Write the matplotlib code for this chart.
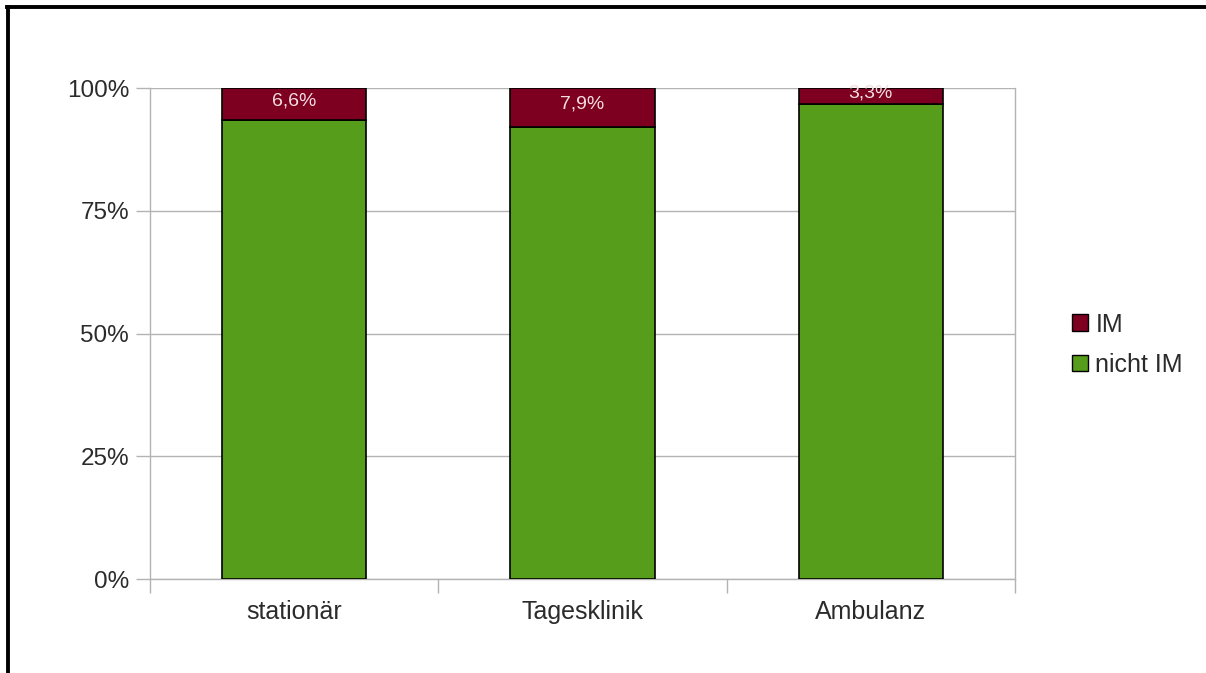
import matplotlib
matplotlib.use("Agg")
import matplotlib.pyplot as plt
from matplotlib.lines import Line2D
from matplotlib.patches import Patch
import numpy as np

plt.rcParams.update({
    "font.family": ["Liberation Sans", "DejaVu Sans"],
    "font.size":   18,
    "text.color":  "#333333",
})

# ── Data ──────────────────────────────────────────────────────────────────────
categories = ["stationär", "Tagesklinik", "Ambulanz"]
im_pct     = [6.6, 7.9, 3.3]
nicht_pct  = [93.4, 92.1, 96.7]
im_labels  = ["6,6%", "7,9%", "3,3%"]
y_ticks    = [0, 25, 50, 75, 100]

C_IM    = "#7e0021"
C_NICHT = "#579d1c"
GRID    = "#b3b3b3"
TXT     = "#2b2b2b"

W, H = 1206, 673
fig = plt.figure(figsize=(W / 100, H / 100), dpi=100)
ax = fig.add_axes([150 / W, 1 - 579 / H, (1015 - 150) / W, (579 - 88) / H])

x = np.arange(len(categories))
ax.bar(x, nicht_pct, width=0.5, color=C_NICHT, edgecolor="black", linewidth=1.2, zorder=3)
ax.bar(x, im_pct, width=0.5, bottom=nicht_pct, color=C_IM, edgecolor="black",
       linewidth=1.2, zorder=3)
for xi, b, h, lab in zip(x, nicht_pct, im_pct, im_labels):
    ax.text(xi, b + h / 2 + 0.6, lab, ha="center", va="center", color="#f4dede",
            fontsize=14, zorder=4)

ax.set_xlim(-0.5, len(categories) - 0.5)
ax.set_ylim(0, 100)
ax.set_yticks(y_ticks)
ax.set_yticklabels([f"{t}%" for t in y_ticks])
ax.yaxis.grid(True, color=GRID, linewidth=1.0, zorder=0)
ax.set_axisbelow(True)

# category labels centred, ticks on category boundaries
ax.set_xticks(x)
ax.set_xticklabels(categories)
ax.tick_params(axis="x", length=0, pad=15, labelsize=18, labelcolor=TXT)
ax.set_xticks(np.arange(-0.5, len(categories)), minor=True)
ax.tick_params(axis="x", which="minor", length=10, color=GRID, width=1)
ax.tick_params(axis="y", length=10, color=GRID, width=1, pad=5, labelsize=17.5,
               labelcolor=TXT)

for s in ax.spines.values():
    s.set_color(GRID)
    s.set_linewidth(1.0)
ax.spines["top"].set_visible(False)

# legend
handles = [Patch(facecolor=C_IM, edgecolor="black", label="IM"),
           Patch(facecolor=C_NICHT, edgecolor="black", label="nicht IM")]
fig.legend(handles=handles, loc="upper left", bbox_to_anchor=(1049 / W, 1 - 290 / H),
           frameon=False, handlelength=0.65, handleheight=0.65, handletextpad=0.3,
           labelspacing=0.65, fontsize=18, labelcolor=TXT)

# outer black frame (left and top only)
fig.add_artist(Line2D([8 / W, 8 / W], [0, 1 - 7 / H], color="black", linewidth=2.8,
                      transform=fig.transFigure))
fig.add_artist(Line2D([7 / W, 1], [1 - 7 / H, 1 - 7 / H], color="black", linewidth=2.8,
                      transform=fig.transFigure))

fig.savefig("out.png", dpi=100, facecolor="white")
